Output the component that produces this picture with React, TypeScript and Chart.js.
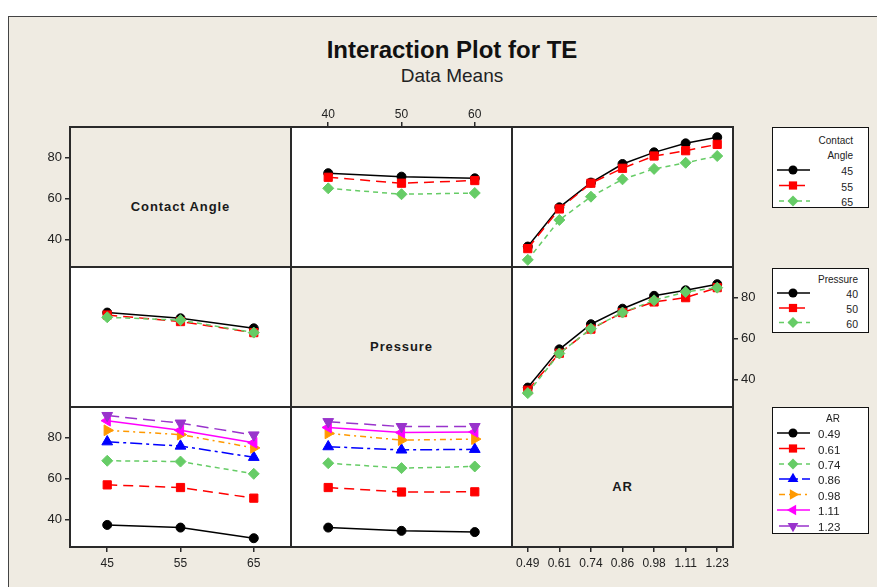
import React, { useEffect, useRef } from 'react';
import { Chart, registerables } from 'chart.js';
Chart.register(...registerables);

// ---------- factor levels / tick labels ----------
const caLevels = [45, 55, 65];
const pressureLevels = [40, 50, 60];
const arLabels = ['0.49', '0.61', '0.74', '0.86', '0.98', '1.11', '1.23'];
const yTicks = [40, 60, 80];

// ---------- data means (TE) ----------
// Contact Angle lines vs Pressure
const teCA45vsP = [72.4, 70.7, 69.9];
const teCA55vsP = [70.4, 67.5, 68.8];
const teCA65vsP = [65.0, 62.1, 62.7];
// Contact Angle lines vs AR
const teCA45vsAR = [36.5, 55.7, 67.8, 76.9, 82.6, 87.0, 90.0];
const teCA55vsAR = [35.5, 54.9, 67.5, 74.8, 80.8, 83.4, 86.5];
const teCA65vsAR = [30.0, 49.5, 60.9, 69.4, 74.5, 77.5, 80.8];
// Pressure lines vs Contact Angle
const teP40vsCA = [72.7, 69.9, 65.0];
const teP50vsCA = [71.5, 68.3, 62.9];
const teP60vsCA = [70.4, 69.0, 62.9];
// Pressure lines vs AR
const teP40vsAR = [36.0, 54.7, 67.0, 74.6, 80.9, 83.6, 86.6];
const teP50vsAR = [34.7, 52.8, 64.6, 72.7, 77.9, 80.0, 84.9];
const teP60vsAR = [33.3, 52.7, 64.8, 72.7, 78.7, 82.8, 84.9];
// AR lines vs Contact Angle
const teAR049vsCA = [37.3, 36.0, 30.8];
const teAR061vsCA = [56.9, 55.6, 50.4];
const teAR074vsCA = [68.7, 68.3, 62.3];
const teAR086vsCA = [78.0, 75.9, 70.4];
const teAR098vsCA = [83.6, 81.5, 75.0];
const teAR111vsCA = [88.3, 83.6, 77.5];
const teAR123vsCA = [90.8, 87.1, 81.3];
// AR lines vs Pressure
const teAR049vsP = [36.0, 34.4, 33.8];
const teAR061vsP = [55.6, 53.4, 53.5];
const teAR074vsP = [67.5, 65.1, 65.9];
const teAR086vsP = [75.6, 74.0, 74.3];
const teAR098vsP = [82.1, 78.8, 79.3];
const teAR111vsP = [85.0, 82.5, 82.8];
const teAR123vsP = [87.8, 85.4, 85.4];

// ---------- styling ----------
const BG = '#EFEBE2';
const BORDER = '#2a2a2a';
const TICK_FONT = "'Liberation Sans Narrow', 'Liberation Sans', Arial, sans-serif";
const UI_FONT = "'Liberation Sans', Arial, sans-serif";

type Sty = { color: string; pointStyle: string; radius: number; rotation: number; dash: number[] };
const STYLES: Sty[] = [
  { color: '#000000', pointStyle: 'circle', radius: 4.5, rotation: 0, dash: [] },
  { color: '#FF0000', pointStyle: 'rect', radius: 5.8, rotation: 0, dash: [10, 6] },
  { color: '#66CC66', pointStyle: 'rectRot', radius: 5.5, rotation: 0, dash: [5, 4] },
  { color: '#0000FF', pointStyle: 'triangle', radius: 6.2, rotation: 0, dash: [12, 4, 3, 4] },
  { color: '#FF9900', pointStyle: 'triangle', radius: 6.2, rotation: 90, dash: [6, 4, 2, 4] },
  { color: '#FF00FF', pointStyle: 'triangle', radius: 6.2, rotation: -90, dash: [] },
  { color: '#9933CC', pointStyle: 'triangle', radius: 6.2, rotation: 180, dash: [12, 6] },
];

const COLX = [70, 291, 512];
const ROWY = [127, 267, 407];
const PW = 221;
const PH = 140;
const M = 40;
const Y_MIN = 26.5;
const Y_MAX = 95;

type XKind = 'ca' | 'p' | 'ar';
type PanelDef = {
  r: number; c: number; diag?: string; x: XKind; series?: number[][];
  yLeft?: boolean; yRight?: boolean; xTop?: boolean; xBottom?: boolean;
};

const PANELS: PanelDef[] = [
  { r: 0, c: 0, diag: 'Contact Angle', x: 'ca', yLeft: true },
  { r: 0, c: 1, x: 'p', xTop: true, series: [teCA45vsP, teCA55vsP, teCA65vsP] },
  { r: 0, c: 2, x: 'ar', series: [teCA45vsAR, teCA55vsAR, teCA65vsAR] },
  { r: 1, c: 0, x: 'ca', series: [teP40vsCA, teP50vsCA, teP60vsCA] },
  { r: 1, c: 1, diag: 'Pressure', x: 'p' },
  { r: 1, c: 2, x: 'ar', yRight: true, series: [teP40vsAR, teP50vsAR, teP60vsAR] },
  { r: 2, c: 0, x: 'ca', yLeft: true, xBottom: true,
    series: [teAR049vsCA, teAR061vsCA, teAR074vsCA, teAR086vsCA, teAR098vsCA, teAR111vsCA, teAR123vsCA] },
  { r: 2, c: 1, x: 'p',
    series: [teAR049vsP, teAR061vsP, teAR074vsP, teAR086vsP, teAR098vsP, teAR111vsP, teAR123vsP] },
  { r: 2, c: 2, diag: 'AR', x: 'ar', xBottom: true },
];

function canvasBox(p: PanelDef) {
  const left = COLX[p.c] - (p.yLeft ? M : 0);
  const top = ROWY[p.r] - (p.xTop ? M : 0);
  const width = PW + (p.yLeft ? M : 0) + (p.yRight ? M : 0);
  const height = PH + (p.xTop ? M : 0) + (p.xBottom ? M : 0);
  return { left, top, width, height };
}

function levelsFor(k: XKind) {
  return k === 'ca' ? caLevels : pressureLevels;
}

function zeroPad(s: any) {
  s.paddingTop = 0; s.paddingBottom = 0; s.paddingLeft = 0; s.paddingRight = 0;
}

function buildConfig(p: PanelDef): any {
  const tickCommon = { color: '#222', font: { family: TICK_FONT, size: 12 }, padding: 4, maxRotation: 0, autoSkip: false };
  const gridCommon = { display: true, drawOnChartArea: false, drawTicks: true, tickLength: 5, color: BORDER, lineWidth: 1.5 };
  const xShown = !!(p.xTop || p.xBottom);
  const yShown = !!(p.yLeft || p.yRight);
  const fitX = (s: any) => { s.height = xShown ? M : 0; if (!xShown) s.width = 0; zeroPad(s); };
  const fitY = (s: any) => { s.width = yShown ? M : 0; if (!yShown) s.height = 0; zeroPad(s); };
  let xScale: any;
  if (p.x === 'ar') {
    xScale = {
      type: 'category', offset: true, display: xShown,
      position: p.xTop ? 'top' : 'bottom',
      grid: gridCommon, border: { display: false }, ticks: tickCommon,
      afterFit: fitX,
    };
  } else {
    const lv = levelsFor(p.x);
    const step = lv[1] - lv[0];
    const mid = lv[1];
    xScale = {
      type: 'linear', min: mid - 1.508 * step, max: mid + 1.508 * step,
      display: xShown, position: p.xTop ? 'top' : 'bottom',
      grid: gridCommon, border: { display: false }, ticks: { ...tickCommon, padding: p.xTop ? 0 : 4 },
      afterBuildTicks: (s: any) => { s.ticks = lv.map((v) => ({ value: v })); },
      afterFit: fitX,
    };
  }
  const yScale = {
    type: 'linear', min: Y_MIN, max: Y_MAX, display: yShown,
    position: p.yRight ? 'right' : 'left',
    grid: gridCommon, border: { display: false }, ticks: { ...tickCommon, padding: 3, font: { family: TICK_FONT, size: 13 } },
    afterBuildTicks: (s: any) => { s.ticks = yTicks.map((v) => ({ value: v })); },
    afterFit: fitY,
  };
  const datasets = (p.series || []).map((arr, i) => {
    const st = STYLES[i];
    const data = p.x === 'ar' ? arr : levelsFor(p.x).map((x, j) => ({ x, y: arr[j] }));
    return {
      data, borderColor: st.color, backgroundColor: st.color, borderWidth: 1.5, borderDash: st.dash,
      pointStyle: st.pointStyle, pointRadius: st.radius, pointRotation: st.rotation,
      pointBackgroundColor: st.color, pointBorderColor: st.color, pointBorderWidth: 1,
      tension: 0, fill: false, order: -i,
    };
  });
  return {
    type: 'line',
    data: { labels: p.x === 'ar' ? arLabels : undefined, datasets },
    options: {
      responsive: false, animation: false, events: [],
      layout: { padding: 0, autoPadding: false },
      plugins: { legend: { display: false }, tooltip: { enabled: false }, title: { display: false } },
      scales: { x: xScale, y: yScale },
    },
  };
}

function Marker({ st, cx, cy }: { st: Sty; cx: number; cy: number }) {
  const r = st.radius;
  if (st.pointStyle === 'circle') return <circle cx={cx} cy={cy} r={r} fill={st.color} />;
  if (st.pointStyle === 'rect') {
    const h = r * Math.SQRT1_2;
    return <rect x={cx - h} y={cy - h} width={2 * h} height={2 * h} fill={st.color} />;
  }
  if (st.pointStyle === 'rectRot') {
    return <polygon points={`${cx - r},${cy} ${cx},${cy - r} ${cx + r},${cy} ${cx},${cy + r}`} fill={st.color} />;
  }
  let rad = (st.rotation * Math.PI) / 180;
  const pts: string[] = [];
  for (let k = 0; k < 3; k++) {
    pts.push(`${cx + Math.sin(rad) * r},${cy - Math.cos(rad) * r}`);
    rad += (2 * Math.PI) / 3;
  }
  return <polygon points={pts.join(' ')} fill={st.color} />;
}

type LegendDef = {
  left: number; top: number; width: number; height: number;
  header: string[]; headerY: number[]; headerAlign: 'right' | 'center'; headerX: number;
  items: string[]; itemY: number[]; textAlign: 'right' | 'left'; textX: number; fontSize: number;
};

const LEGENDS: LegendDef[] = [
  { left: 772, top: 127, width: 97, height: 81, header: ['Contact', 'Angle'], headerY: [140, 155], headerAlign: 'right', headerX: 854,
    items: caLevels.map(String), itemY: [170, 185.5, 201], textAlign: 'right', textX: 854, fontSize: 10.5 },
  { left: 772, top: 268, width: 97, height: 65, header: ['Pressure'], headerY: [278.5], headerAlign: 'right', headerX: 859,
    items: pressureLevels.map(String), itemY: [293, 308, 322.5], textAlign: 'right', textX: 859, fontSize: 10.5 },
  { left: 772, top: 407, width: 97, height: 127, header: ['AR'], headerY: [418], headerAlign: 'center', headerX: 832,
    items: arLabels, itemY: [433, 448.5, 464, 479, 494.5, 510, 526], textAlign: 'left', textX: 817, fontSize: 11.5 },
];

function Legend({ d }: { d: LegendDef }) {
  const txt = (s: string, x: number, y: number, align: string, size: number, key: string) => (
    <div key={key} style={{
      position: 'absolute', top: y - d.top - 8, height: 16, lineHeight: '16px', fontSize: size, fontFamily: UI_FONT, color: '#222',
      whiteSpace: 'nowrap',
      ...(align === 'right' ? { right: d.left + d.width - x } : align === 'left' ? { left: x - d.left } : { left: x - d.left - 40, width: 80, textAlign: 'center' }),
    }}>{s}</div>
  );
  return (
    <div style={{ position: 'absolute', left: d.left, top: d.top, width: d.width, height: d.height, boxSizing: 'border-box',
      border: '1.5px solid #111', background: '#fff' }}>
      <svg width={d.width} height={d.height} style={{ position: 'absolute', left: -1.5, top: -1.5 }}>
        {d.items.map((_, i) => {
          const st = STYLES[i];
          const y = d.itemY[i] - d.top;
          return (
            <g key={i}>
              <line x1={777 - d.left} x2={810 - d.left} y1={y} y2={y} stroke={st.color} strokeWidth={1.5}
                strokeDasharray={st.dash.length ? st.dash.join(' ') : undefined} strokeDashoffset={st.dash.length ? -2 : 0} />
              <Marker st={st} cx={793 - d.left} cy={y} />
            </g>
          );
        })}
      </svg>
      {d.header.map((h, i) => txt(h, d.headerX, d.headerY[i], d.headerAlign, 10, 'h' + i))}
      {d.items.map((s, i) => txt(s, d.textX, d.itemY[i], d.textAlign, d.fontSize, 'i' + i))}
    </div>
  );
}

export default function App() {
  const refs = useRef<(HTMLCanvasElement | null)[]>([]);
  useEffect(() => {
    const charts = PANELS.map((p, i) => new Chart(refs.current[i] as HTMLCanvasElement, buildConfig(p)));
    return () => charts.forEach((c) => c.destroy());
  }, []);

  return (
    <div style={{ position: 'absolute', left: 0, top: 0, width: 877, height: 587, background: '#fff', overflow: 'hidden' }}>
      <div style={{ position: 'absolute', left: 8, top: 16, width: 900, height: 600, background: BG, border: '1px solid #444' }} />
      <div style={{ position: 'absolute', left: 0, width: 904, top: 36, textAlign: 'center', fontFamily: UI_FONT,
        fontWeight: 'bold', fontSize: 24, lineHeight: '28px', color: '#111' }}>Interaction Plot for TE</div>
      <div style={{ position: 'absolute', left: 0, width: 904, top: 65, textAlign: 'center', fontFamily: UI_FONT,
        fontSize: 19, lineHeight: '22px', color: '#222' }}>Data Means</div>
      {PANELS.map((p, i) => (
        <div key={'bg' + i} style={{ position: 'absolute', left: COLX[p.c] - 1, top: ROWY[p.r] - 1, width: PW + 2, height: PH + 2,
          boxSizing: 'border-box', border: `2px solid ${BORDER}`, background: p.diag ? BG : '#fff' }} />
      ))}
      {PANELS.filter((p) => p.diag).map((p, i) => (
        <div key={'lab' + i} style={{ position: 'absolute', left: COLX[p.c], top: ROWY[p.r] + PH / 2 + 10 - 9, width: PW, height: 18,
          lineHeight: '18px', textAlign: 'center', fontFamily: UI_FONT, fontWeight: 'bold', fontSize: 13, letterSpacing: 0.9, color: '#1a1a1a' }}>
          {p.diag}
        </div>
      ))}
      {PANELS.map((p, i) => {
        const b = canvasBox(p);
        return (
          <canvas key={'cv' + i} ref={(el) => { refs.current[i] = el; }} width={b.width} height={b.height}
            style={{ position: 'absolute', left: b.left, top: b.top, width: b.width, height: b.height, display: 'block' }} />
        );
      })}
      {LEGENDS.map((d, i) => <Legend key={i} d={d} />)}
    </div>
  );
}
